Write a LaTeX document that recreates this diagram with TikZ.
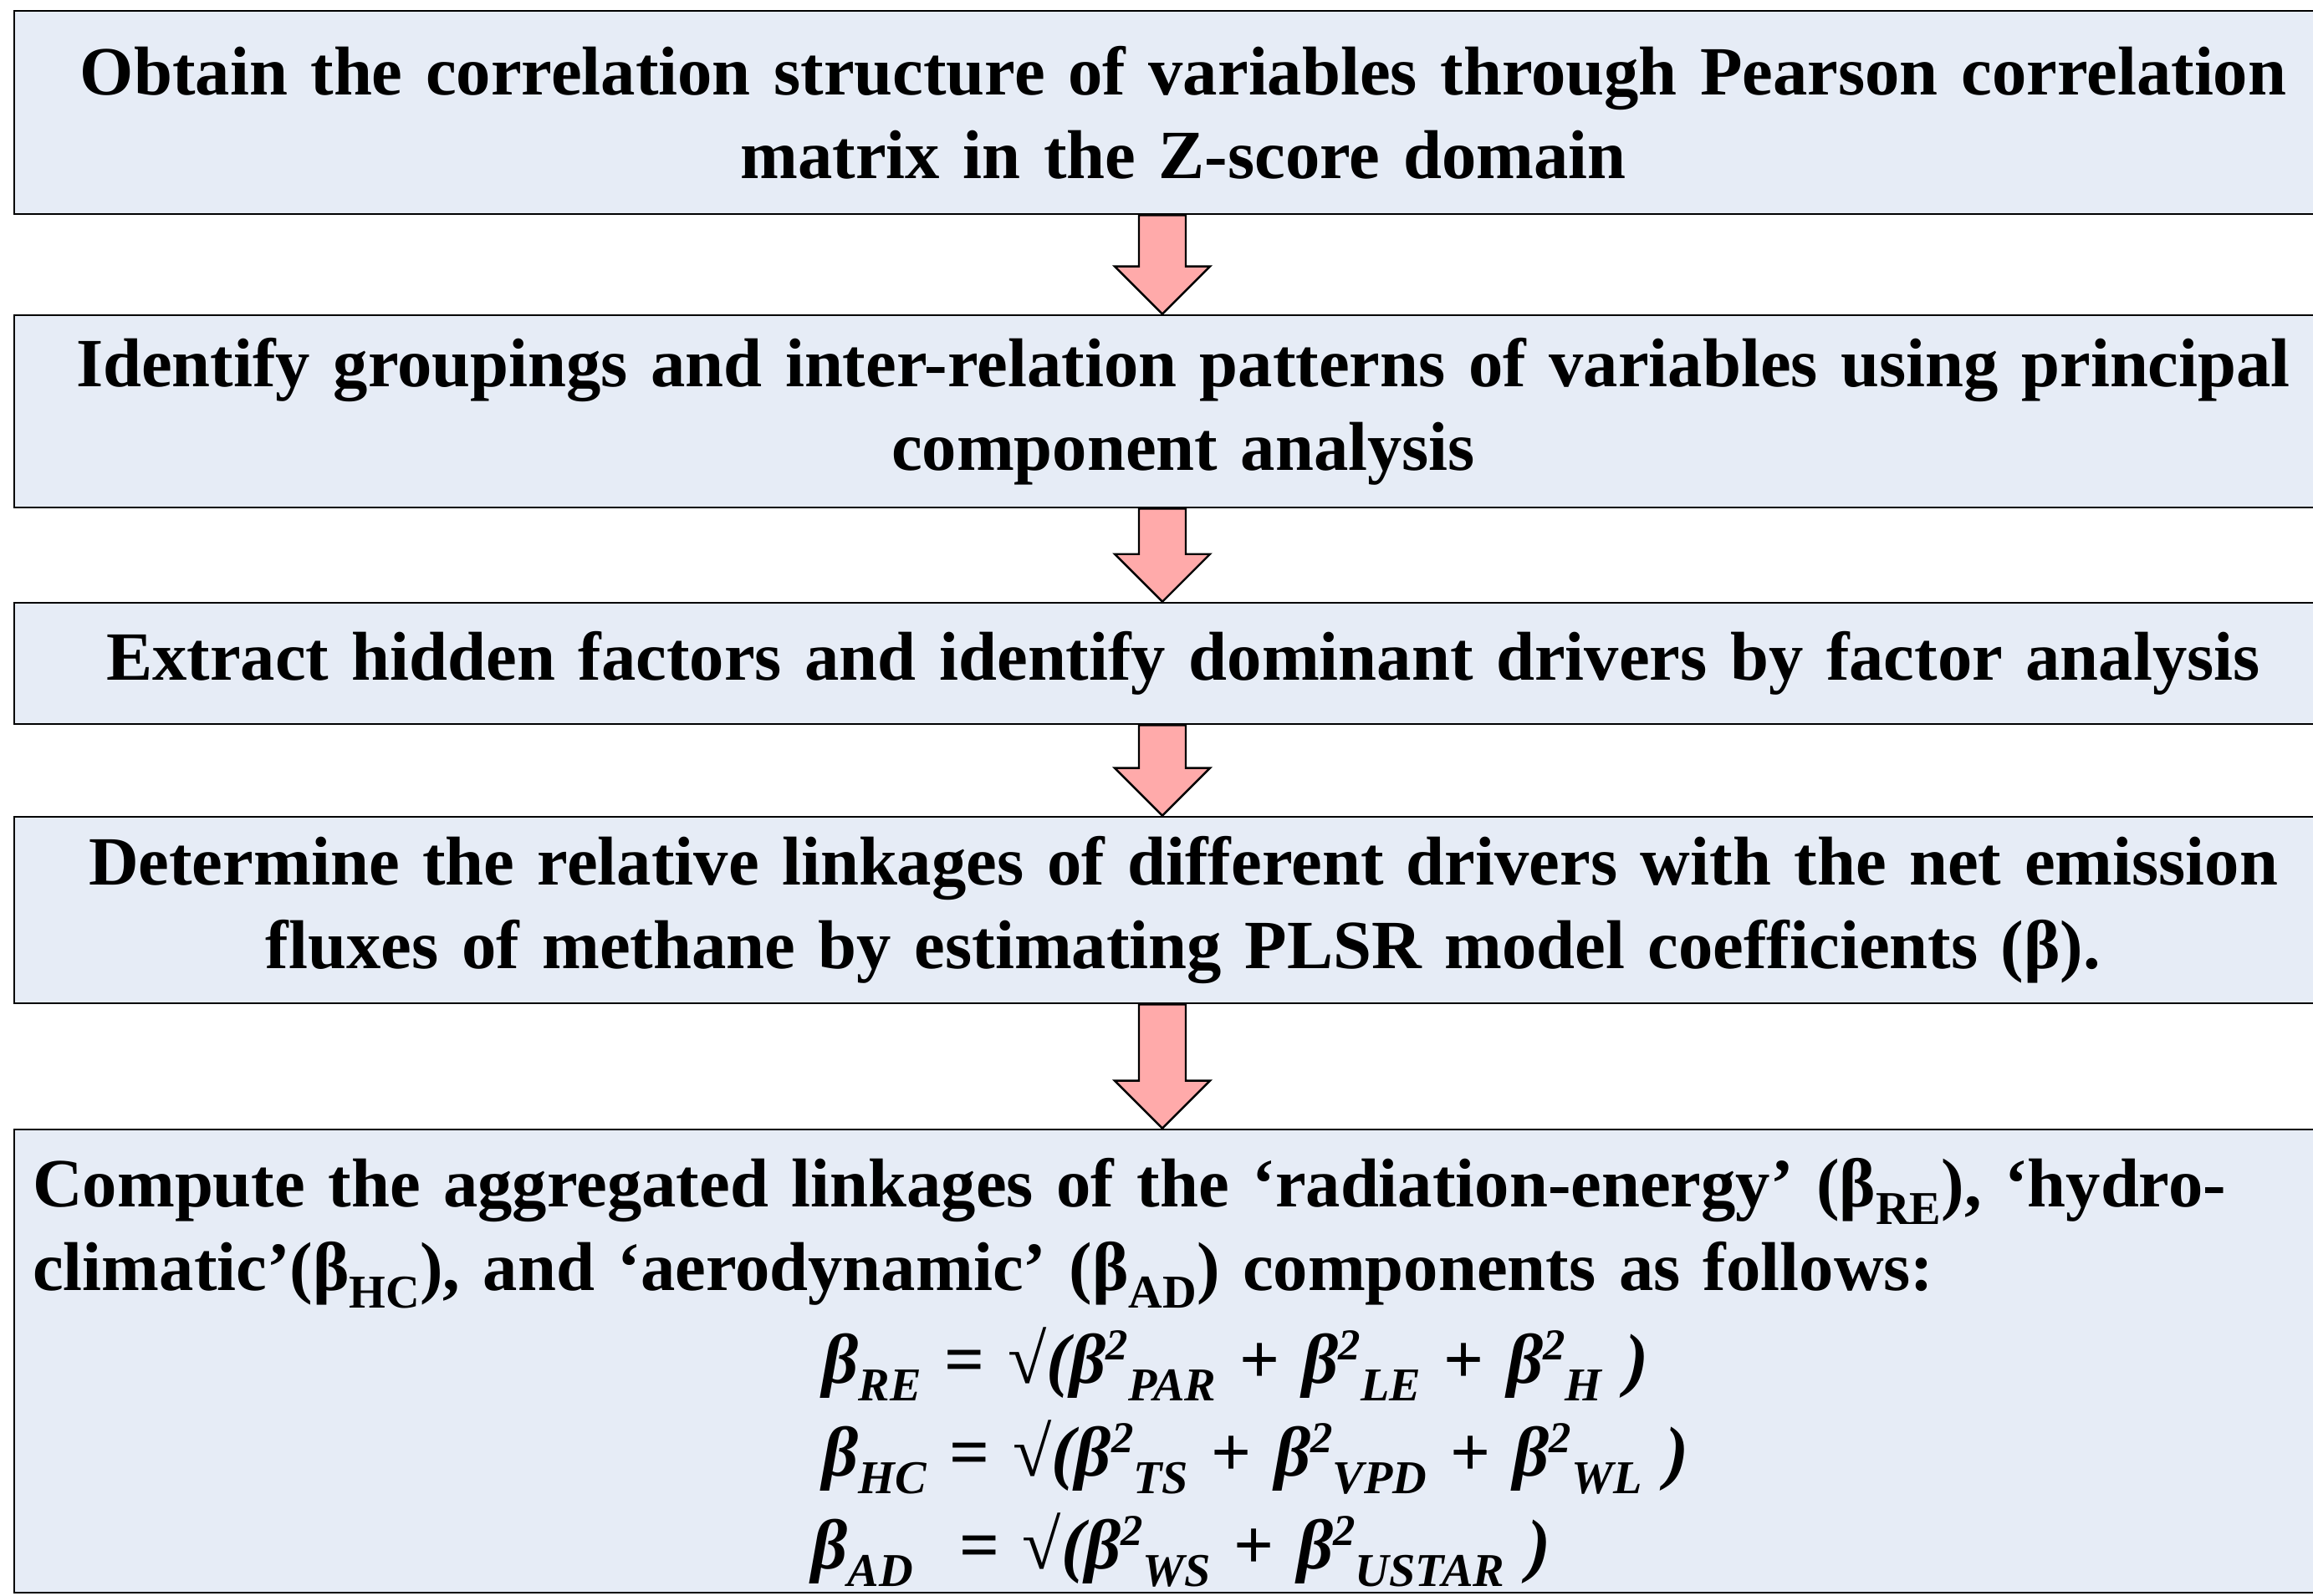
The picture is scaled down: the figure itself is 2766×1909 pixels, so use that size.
\documentclass[tikz,border=0pt]{standalone}
\usepackage{fontspec}
\setmainfont{Liberation Serif}
\usetikzlibrary{calc}

\definecolor{boxblue}{RGB}{230,236,246}
\definecolor{arrowpink}{RGB}{255,170,170}

% raised 2 and lowered index for the formulas
\newcommand{\sq}{\raisebox{0.33em}{\fontsize{15}{15}\selectfont 2}}
\newcommand{\lo}[1]{\raisebox{-0.25em}{\fontsize{16}{16}\selectfont #1}}
\newcommand{\tlo}[1]{\raisebox{-0.25em}{\fontsize{16}{16}\selectfont #1}}

% block arrow from the bottom of one step to the top of the next
\newcommand{\flowto}[2]{%
  \draw[blockarrow] ($(#1.south)+(-53,0)$) -- ($(#1.south)+(3,0)$)
    -- ($(#2.north)+(3,-57)$) -- ($(#2.north)+(32,-57)$)
    -- ($(#2.north)+(-25,0)$) -- ($(#2.north)+(-82,-57)$)
    -- ($(#2.north)+(-53,-57)$) -- cycle;}

\begin{document}
\begin{tikzpicture}[
  x=0.01cm, y=-0.01cm,
  every node/.style={font=\fontsize{23.5}{28.45}\selectfont\bfseries},
  stepbox/.style={draw, line width=0.7pt, fill=boxblue, rectangle,
                  minimum width=27.94cm, inner sep=0pt, text width=27.9cm,
                  align=center},
  blockarrow/.style={draw, line width=0.7pt, fill=arrowpink, line join=miter},
]
\useasboundingbox (0,0) rectangle (2766,1909);
\clip (0,0) rectangle (2766,1909);

\node[stepbox, minimum height=2.43cm] (pearson) at (1415,134.5)
  {Obtain the correlation structure of variables through Pearson correlation\\
   matrix in the Z-score domain};
\node[stepbox, minimum height=2.30cm] (pca) at (1415,492)
  {Identify groupings and inter-relation patterns of variables using principal\\
   component analysis};
\node[stepbox, minimum height=1.45cm] (factor) at (1415,793.5)
  {Extract hidden factors and identify dominant drivers by factor analysis};
\node[stepbox, minimum height=2.23cm] (plsr) at (1415,1088.5)
  {Determine the relative linkages of different drivers with the net emission\\
   fluxes of methane by estimating PLSR model coefficients (β).};
\node[stepbox, minimum height=5.54cm, text width=27.5cm, align=left] (aggr) at (1415,1628)
  {\rule{0pt}{0.8cm}Compute the aggregated linkages of the ‘radiation-energy’ (β\tlo{RE}), ‘hydro-\\
   climatic’(β\tlo{HC}), and ‘aerodynamic’ (β\tlo{AD}) components as follows:\\[0.11cm]
   \hspace*{9.44cm}{\fontsize{24}{28.45}\selectfont\itshape β\lo{RE} \textup{=} \textup{√}(β\sq\lo{PAR} \textup{+} β\sq\lo{LE} \textup{+} β\sq\lo{H} )}\\[0.11cm]
   \hspace*{9.44cm}{\fontsize{24}{28.45}\selectfont\itshape β\lo{HC}\ \textup{=} \textup{√}(β\sq\lo{TS} \textup{+} β\sq\lo{VPD} \textup{+} β\sq\lo{WL} )}\\[0.11cm]
   \hspace*{9.31cm}\raisebox{0pt}[\height][0.16cm]{\fontsize{24}{28.45}\selectfont\itshape β\lo{AD}\ \ \textup{=} \textup{√}(β\sq\lo{WS} \textup{+} β\sq\lo{USTAR} )}};

\flowto{pearson}{pca}
\flowto{pca}{factor}
\flowto{factor}{plsr}
\flowto{plsr}{aggr}
\end{tikzpicture}
\end{document}
